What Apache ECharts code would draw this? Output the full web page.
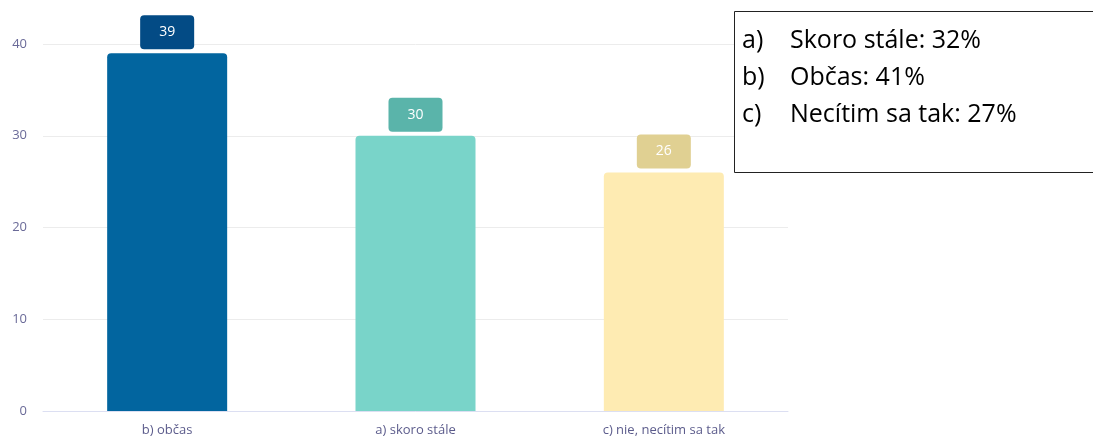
<!DOCTYPE html>
<html><head><meta charset="utf-8">
<script src="https://cdn.jsdelivr.net/npm/echarts@6/dist/echarts.min.js"></script>
<style>html,body{margin:0;padding:0;background:#fff}#c{width:1093px;height:437px}</style>
</head><body><div id="c"></div>
<script>
const categories = ['b) občas', 'a) skoro stále', 'c) nie, necítim sa tak'];
const values = [39, 30, 26];
const barColors = ['#02659f', '#79d4c9', '#feebb2'];
const labelColors = ['#034b85', '#5ab4aa', '#e0d092'];
const noteLines = [['a)', 'Skoro stále: 32%'], ['b)', 'Občas: 41%'], ['c)', 'Necítim sa tak: 27%']];

const chart = echarts.init(document.getElementById('c'));
const graphics = [{
  type: 'rect', left: 734, top: 11, z: 100,
  shape: { width: 370, height: 161 },
  style: { fill: '#fff', stroke: '#222', lineWidth: 1 }
}];
noteLines.forEach((l, i) => {
  graphics.push({ type: 'text', left: 742, top: 28 + i * 37, z: 101,
    style: { text: l[0], font: '25px "Open Sans", sans-serif', fill: '#000' } });
  graphics.push({ type: 'text', left: 790, top: 28 + i * 37, z: 101,
    style: { text: l[1], font: '25px "Open Sans", sans-serif', fill: '#000' } });
});
chart.setOption({
  animation: false,
  grid: { left: 43, right: 305, top: 44, bottom: 26 },
  xAxis: {
    type: 'category', data: categories,
    axisLine: { lineStyle: { color: '#dcdff2', width: 1 } },
    axisTick: { show: false },
    axisLabel: { color: '#5c5c8c', fontSize: 13, fontFamily: '"Open Sans", sans-serif', margin: 13 }
  },
  yAxis: {
    type: 'value', min: 0, max: 40, interval: 10,
    splitLine: { lineStyle: { color: '#ececec' } },
    axisLabel: { color: '#6a6a98', fontSize: 13, fontFamily: '"Open Sans", sans-serif', margin: 16 }
  },
  series: [{
    type: 'bar', barWidth: 120,
    data: values.map((v, i) => ({
      value: v,
      itemStyle: { color: barColors[i], borderRadius: [4, 4, 0, 0] },
      label: { backgroundColor: labelColors[i] }
    })),
    label: {
      show: true, position: 'top', distance: 4, color: '#fff', fontSize: 14,
      fontFamily: '"Open Sans", sans-serif',
      padding: [10, 19, 10, 19], borderRadius: 4
    }
  }],
  graphic: graphics
});
</script></body></html>
